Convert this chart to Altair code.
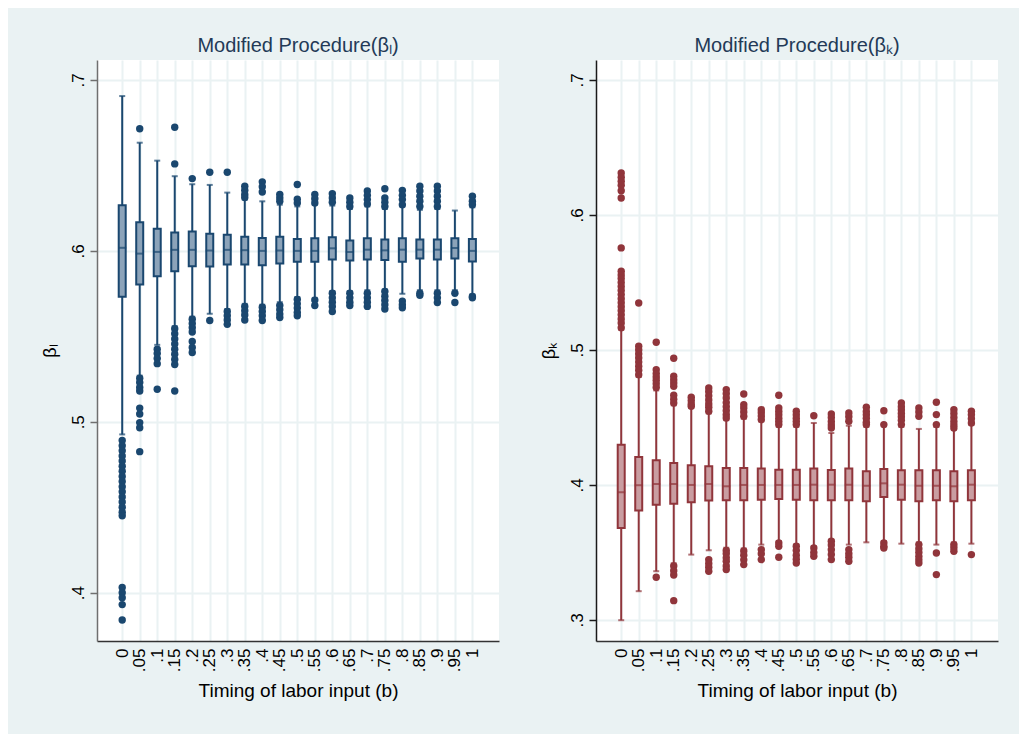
import altair as alt
import pandas as pd

cats = ["0", ".05", ".1", ".15", ".2", ".25", ".3", ".35", ".4", ".45", ".5",
        ".55", ".6", ".65", ".7", ".75", ".8", ".85", ".9", ".95", "1"]

# ---- beta_l panel ----
L_q1 = [.5731, .5803, .5852, .5881, .5910, .5908, .5920, .5920, .5916, .5926, .5936,
        .5936, .5949, .5944, .5949, .5946, .5936, .5955, .5949, .5955, .5938]
L_med = [.6018, .5984, .5994, .6006, .6006, .6002, .6006, .6004, .6000, .6002, .6000,
         .6000, .6015, .5993, .6007, .6003, .6007, .6007, .6007, .6017, .6000]
L_q3 = [.6267, .6168, .6129, .6107, .6113, .6100, .6094, .6082, .6076, .6082, .6070,
        .6074, .6080, .6060, .6074, .6066, .6074, .6066, .6066, .6074, .6070]
L_wlo = [.4926, .5270, .5450, .5560, .5615, .5632, .5660, .5690, .5685, .5700, .5730,
         .5725, .5765, .5765, .5770, .5775, .5749, .5770, .5770, .5770, .5745]
L_whi = [.6906, .6633, .6528, .6437, .6390, .6386, .6341, .6300, .6290, .6270, .6260,
         .6270, .6265, .6245, .6260, .6245, .6260, .6240, .6245, .6236, .6255]
L_out = [
    [.489, .486, .483, .480, .477, .474, .471, .468, .465, .462, .459, .456, .453, .450,
     .447, .445, .403, .400, .397, .393, .384],
    [.6715, .5255, .523, .520, .518, .508, .5045, .4995, .4965, .4825],
    [.5425, .540, .537, .534, .519],
    [.6723, .6509, .5545, .5515, .5485, .5455, .5425, .5395, .5365, .5335, .518],
    [.6423, .5600, .5575, .555, .5525, .547, .5435, .5405],
    [.646, .5593],
    [.646, .5645, .562, .5595, .557],
    [.6378, .6355, .633, .6312, .5675, .565, .5625, .5595],
    [.6404, .6375, .6345, .567, .5645, .562, .5593],
    [.633, .631, .629, .568, .5655, .563, .561],
    [.6388, .6302, .628, .5715, .569, .5665, .564, .562],
    [.633, .6305, .628, .5712, .568],
    [.6335, .631, .6285, .5752, .5725, .570, .5675, .5645],
    [.631, .6285, .626, .5752, .5725, .570, .568],
    [.635, .6325, .630, .6275, .5752, .5725, .570, .5675],
    [.6364, .631, .6285, .626, .5762, .5735, .571, .5685, .566],
    [.6353, .6325, .630, .627, .5706, .5685, .5667],
    [.6378, .635, .632, .629, .626, .5752, .574],
    [.6378, .635, .632, .629, .626, .5752, .5725, .5698],
    [.5752, .5698],
    [.632, .629, .627, .5733, .5725],
]

# ---- beta_k panel ----
K_q1 = [.3681, .3810, .3854, .3861, .3872, .3884, .3886, .3886, .3891, .3896, .3891,
        .3887, .3887, .3887, .3879, .3911, .3891, .3879, .3887, .3879, .3887]
K_med = [.3946, .3998, .4007, .4007, .4000, .4007, .3990, .4000, .4000, .4000, .4000,
         .4002, .4002, .4002, .3994, .4012, .4002, .3994, .3994, .3990, .4002]
K_q3 = [.4298, .4207, .4183, .4163, .4146, .4138, .4126, .4126, .4121, .4113, .4113,
        .4121, .4111, .4121, .4101, .4118, .4109, .4109, .4109, .4101, .4109]
K_wlo = [.2998, .3213, .3361, .3420, .3484, .3516, .3535, .3530, .3558, .3585, .3560,
         .3546, .3595, .3558, .3575, .3585, .3565, .3575, .3558, .3575, .3565]
K_whi = [.5150, .4800, .4700, .4590, .4570, .4530, .4480, .4490, .4470, .4430, .4430,
         .4459, .4385, .4439, .4430, .4435, .4430, .4415, .4430, .4410, .4445]
K_out = [
    [.6311, .628, .625, .622, .618, .6126, .5756, .5583, .5555, .553, .550, .547, .544,
     .541, .538, .535, .532, .529, .526, .523, .520, .5165],
    [.5348, .5027, .500, .497, .494, .491, .488, .485, .4817],
    [.5057, .4854, .4825, .480, .4775, .475, .4722, .3316],
    [.4938, .4805, .478, .4755, .4731, .4664, .4635, .4607, .340, .3365, .3333, .3143],
    [.465, .4625, .460, .4583],
    [.4719, .469, .466, .463, .460, .4575, .4546, .3447, .3418, .339, .3361],
    [.4706, .4675, .4645, .461, .458, .455, .452, .4496, .3515, .349, .346, .3435, .340, .3373],
    [.4674, .4595, .457, .454, .4509, .3511, .348, .3445, .341],
    [.4558, .4535, .451, .4484, .3521, .349, .3447],
    [.4664, .457, .4545, .452, .4495, .447, .4447, .357, .3546, .3464],
    [.4546, .452, .4495, .447, .4447, .3546, .3515, .348, .345, .3422],
    [.4513, .3533, .350, .3472],
    [.4526, .450, .447, .4445, .4422, .3583, .3555, .352, .3485, .3447],
    [.4533, .4505, .4472, .3521, .349, .3465, .3435],
    [.4575, .4545, .452, .4495, .4465, .4447],
    [.455, .4447, .357, .3545, .3533],
    [.4607, .458, .4555, .453, .4505, .448, .4447],
    [.457, .454, .4509, .3558, .3528, .350, .347, .3445, .3422],
    [.4613, .4521, .4447, .3496, .3336],
    [.4558, .453, .450, .447, .4445, .4422, .3558, .3535, .3509],
    [.4546, .452, .449, .4459, .3484],
]

FONT = "Liberation Sans"
IDX = list(range(len(cats)))
LABEL_EXPR = "[" + ",".join("'%s'" % c for c in cats) + "][datum.value]"


def panel(q1, med, q3, wlo, whi, outs, title, ytitle, domain, ticks, line, fill, ycolor):
    box = pd.DataFrame({"i": IDX, "q1": q1, "med": med, "q3": q3, "wlo": wlo, "whi": whi})
    out = pd.DataFrame([{"i": i, "v": v} for i, vs in zip(IDX, outs) for v in vs])
    xscale = alt.Scale(domain=[-1.44, len(cats) - 1 + 1.52], nice=False, zero=False, padding=0)
    yscale = alt.Scale(domain=domain, nice=False, zero=False, padding=0)
    xaxis = alt.Axis(
        title="Timing of labor input (b)", values=IDX, labelExpr=LABEL_EXPR,
        labelAngle=270, labelAlign="right", labelBaseline="middle",
        ticks=False, labelPadding=7,
        labelFontSize=17, labelFont=FONT, labelColor="#000000",
        titleFontSize=19, titleFont=FONT, titleFontWeight="normal", titleColor="#000000",
        titlePadding=10, domainColor="#333333", domainWidth=1.5,
        grid=True, gridColor="#EAF2F3", gridWidth=2,
    )
    yaxis = alt.Axis(
        title=ytitle, values=ticks, format=".1f", labelExpr="replace(datum.label, /^0/, '')",
        labelAngle=270, labelAlign="center", labelBaseline="bottom",
        tickSize=7, tickWidth=1.5, tickColor=ycolor, labelPadding=3,
        labelFontSize=17, labelFont=FONT, labelColor="#000000",
        titleFontSize=18, titleFont=FONT, titleFontWeight="normal", titleColor="#000000",
        titleAngle=270, titlePadding=10, domainColor=ycolor, domainWidth=1.5,
        grid=True, gridColor="#EAF2F3", gridWidth=2,
    )
    X = alt.X("i:Q", scale=xscale, axis=xaxis)

    def Y(f):
        return alt.Y(f, scale=yscale, axis=yaxis)

    whisk = alt.Chart(box).mark_rule(color=line, strokeWidth=2).encode(
        x=X, y=Y("wlo:Q"), y2="whi:Q")
    cap_lo = alt.Chart(box).mark_tick(color=line, size=6, thickness=2, orient="horizontal").encode(
        x=X, y=Y("wlo:Q"))
    cap_hi = alt.Chart(box).mark_tick(color=line, size=6, thickness=2, orient="horizontal").encode(
        x=X, y=Y("whi:Q"))
    boxes = alt.Chart(box).mark_bar(fill=fill, stroke=line, strokeWidth=2, size=7).encode(
        x=X, y=Y("q1:Q"), y2="q3:Q")
    meds = alt.Chart(box).mark_tick(color=line, size=8, thickness=2, orient="horizontal").encode(
        x=X, y=Y("med:Q"))
    pts = alt.Chart(out).mark_circle(color=line, size=55, opacity=1).encode(
        x=X, y=Y("v:Q"))

    return alt.layer(whisk, cap_lo, cap_hi, boxes, meds, pts).properties(
        width=402, height=581,
        title=alt.TitleParams(text=title, fontSize=20, font=FONT, color="#233A57",
                              fontWeight="normal", offset=4, anchor="middle"),
    )


left = panel(L_q1, L_med, L_q3, L_wlo, L_whi, L_out, "Modified Procedure(βₗ)", "βₗ",
             [0.3717, 0.7117], [0.4, 0.5, 0.6, 0.7], "#1A476F", "#8CA3B9", "#6F6F6F")
right = panel(K_q1, K_med, K_q3, K_wlo, K_whi, K_out, "Modified Procedure(βₖ)", "βₖ",
              [0.2844, 0.7148], [0.3, 0.4, 0.5, 0.6, 0.7], "#90353B", "#C99DA1", "#1A1A1A")

chart = alt.hconcat(left, right, spacing=41).properties(
    background="#EAF2F3",
    padding={"left": 33, "top": 28, "right": 21, "bottom": 33},
).configure_view(fill="white", stroke=None).resolve_scale(y="independent")

chart.save("out.html", embed_options={"renderer": "svg", "actions": False})
